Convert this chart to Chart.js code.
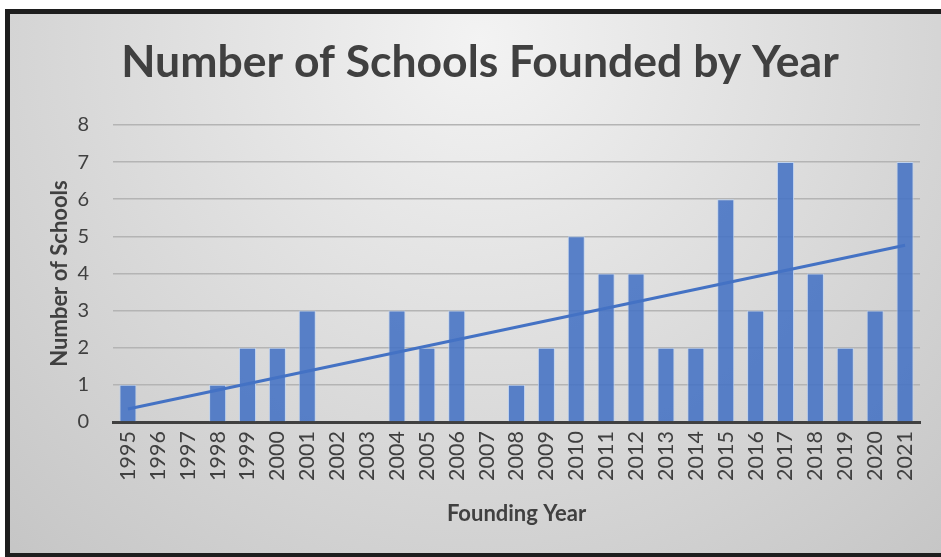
<!DOCTYPE html>
<html lang="en">
<head>
    <meta charset="UTF-8">
    <title>Number of Schools Founded by Year</title>
    <script src="https://cdn.jsdelivr.net/npm/chart.js"></script>
    <style>
        html, body { margin: 0; padding: 0; background: #fff; }
        .chart-container { width: 941px; height: 557px; position: relative; }
    </style>
</head>
<body>
    <div class="chart-container">
        <canvas id="schoolsChart"></canvas>
    </div>

    <script>
        const years = ['1995', '1996', '1997', '1998', '1999', '2000', '2001', '2002', '2003', '2004',
                       '2005', '2006', '2007', '2008', '2009', '2010', '2011', '2012', '2013', '2014',
                       '2015', '2016', '2017', '2018', '2019', '2020', '2021'];
        const schoolCounts = [1, 0, 0, 1, 2, 2, 3, 0, 0, 3,
                              2, 3, 0, 1, 2, 5, 4, 4, 2, 2,
                              6, 3, 7, 4, 2, 3, 7];
        // linear trendline, start and end
        const trendStart = 0.35;
        const trendEnd = 4.76;
        const trendValues = years.map((y, i) => i === 0 ? trendStart : (i === years.length - 1 ? trendEnd : null));
        const yTicks = [0, 1, 2, 3, 4, 5, 6, 7, 8];

        const frameBackground = {
            id: 'frameBackground',
            beforeDraw(chart) {
                const c = chart.ctx;
                const w = chart.width, h = chart.height;
                c.save();
                c.fillStyle = '#ffffff';
                c.fillRect(0, 0, w, h);
                const g = c.createRadialGradient(480, 40, 0, 480, 40, 720);
                g.addColorStop(0, '#f3f3f3');
                g.addColorStop(0.55, '#d9d9d9');
                g.addColorStop(1, '#c4c4c4');
                c.fillStyle = g;
                c.fillRect(5, 9, w - 5, h - 9);
                c.fillStyle = '#1e1e1e';
                c.fillRect(5, 9, w - 5, 5);
                c.fillRect(5, 9, 5, h - 9);
                c.fillRect(5, h - 4, w - 5, 4);
                c.restore();
            }
        };

        const ctx = document.getElementById('schoolsChart').getContext('2d');
        new Chart(ctx, {
            type: 'bar',
            data: {
                labels: years,
                datasets: [{
                    type: 'line',
                    label: 'Linear trend',
                    data: trendValues,
                    borderColor: '#4472c4',
                    borderWidth: 3,
                    pointRadius: 0,
                    spanGaps: true,
                    fill: false,
                    order: 0
                }, {
                    label: 'Number of Schools',
                    data: schoolCounts,
                    backgroundColor: 'rgba(68, 114, 196, 0.88)',
                    borderColor: 'rgba(189, 210, 240, 0.9)',
                    borderWidth: 1,
                    barPercentage: 0.57,
                    categoryPercentage: 1.0,
                    order: 1
                }]
            },
            options: {
                responsive: true,
                maintainAspectRatio: false,
                animation: false,
                layout: {
                    padding: { left: 40, right: 21, top: 14, bottom: 30 }
                },
                plugins: {
                    legend: { display: false },
                    tooltip: { enabled: false },
                    title: {
                        display: true,
                        text: 'Number of Schools Founded by Year',
                        color: '#404040',
                        font: { family: 'Lato', size: 44.5, weight: 'bold', lineHeight: 1.1 },
                        padding: { top: 24, bottom: 38 }
                    }
                },
                scales: {
                    x: {
                        grid: { display: false, drawTicks: false },
                        border: { display: true, color: '#404040', width: 3 },
                        ticks: {
                            color: '#404040',
                            font: { family: 'Lato', size: 21.5 },
                            maxRotation: 90,
                            minRotation: 90,
                            padding: 9,
                            autoSkip: false
                        },
                        title: {
                            display: true,
                            text: 'Founding Year',
                            color: '#404040',
                            font: { family: 'Lato', size: 22, weight: 'bold' },
                            padding: { top: 0, bottom: 0 }
                        },
                        afterFit(scale) { scale.height = 105; }
                    },
                    y: {
                        min: 0,
                        max: 8,
                        afterBuildTicks(scale) { scale.ticks = yTicks.map(v => ({ value: v })); },
                        grid: { color: '#b4b4b4', lineWidth: 1.5, drawTicks: false },
                        border: { display: false },
                        ticks: {
                            color: '#404040',
                            font: { family: 'Lato', size: 20 },
                            padding: 24
                        },
                        title: {
                            display: true,
                            text: 'Number of Schools',
                            color: '#404040',
                            font: { family: 'Lato', size: 22, weight: 'bold' },
                            padding: { top: 7, bottom: 0 }
                        },
                        afterFit(scale) { scale.width = 73; }
                    }
                }
            },
            plugins: [frameBackground]
        });
    </script>
</body>
</html>
